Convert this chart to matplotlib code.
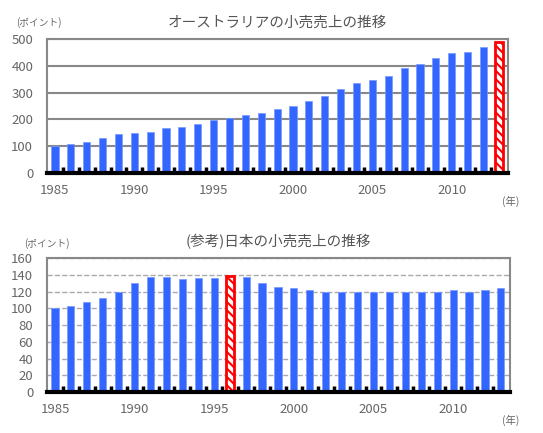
import numpy as np
import matplotlib.pyplot as plt
from matplotlib.ticker import MultipleLocator

plt.rcParams['font.family'] = ['Noto Sans CJK JP', 'DejaVu Sans']
plt.rcParams['hatch.color'] = 'red'
plt.rcParams['hatch.linewidth'] = 1.5

years = np.arange(1985, 2014)
aus = [100, 110, 116, 132, 144, 150, 154, 166, 172, 182, 199, 206, 216, 222, 240,
       250, 267, 289, 312, 334, 346, 362, 390, 407, 430, 447, 452, 469, 490]
jpn = [100, 103, 108, 113, 120, 130, 138, 138, 135, 136, 136, 139, 138, 130, 126,
       124, 122, 119, 119, 119, 120, 120, 120, 120, 119, 122, 120, 122, 124]
aus_mark = 2013
jpn_mark = 1996
xtick_years = [1985, 1990, 1995, 2000, 2005, 2010]

blue = '#3366ff'
gray_txt = '#666666'

fig = plt.figure(figsize=(5.43, 4.33), dpi=100)
ax1 = fig.add_axes([0.0866, 0.6005, 0.849, 0.3095])
ax2 = fig.add_axes([0.0866, 0.0947, 0.852, 0.309])


def draw(ax, vals, mark, ymax, ystep, grid_style, title):
    vals = np.array(vals)
    normal = years != mark
    ax.bar(years[normal], vals[normal], width=0.45, color=blue, edgecolor='#7799ff',
           linewidth=0.5, zorder=3)
    ax.bar(years[~normal], vals[~normal], width=0.5, color='white', edgecolor='red',
           linewidth=2, hatch='\\\\\\\\', zorder=3)
    ax.set_xlim(1984.5, 2013.55)
    ax.set_ylim(0, ymax)
    ax.yaxis.set_major_locator(MultipleLocator(ystep))
    ax.set_xticks(xtick_years)
    ax.set_xticks(years[:-1] + 0.5, minor=True)
    ax.tick_params(axis='x', which='major', length=0, pad=8, labelsize=9.5, labelcolor=gray_txt)
    ax.tick_params(axis='x', which='minor', direction='in', length=4, width=2.5, color='black')
    ax.tick_params(axis='y', length=0, pad=10, labelsize=9.5, labelcolor=gray_txt)
    ax.grid(axis='y', zorder=0, **grid_style)
    for s in ['top', 'left', 'right']:
        ax.spines[s].set_color('#888888')
        ax.spines[s].set_linewidth(1.5)
    ax.spines['bottom'].set_color('black')
    ax.spines['bottom'].set_linewidth(3)
    ax.spines['bottom'].set_zorder(5)
    ax.set_title(title, fontsize=10.5, color='#555555', pad=9)


draw(ax1, aus, aus_mark, 500, 100, dict(color='#888888', linewidth=1.5),
     'オーストラリアの小売売上の推移')
draw(ax2, jpn, jpn_mark, 160, 20, dict(color='#aaaaaa', linewidth=1, linestyle='--'),
     '(参考)日本の小売売上の推移')

fig.text(0.03, 0.948, '(ポイント)', fontsize=7, color=gray_txt, va='center')
fig.text(0.045, 0.438, '(ポイント)', fontsize=7, color=gray_txt, va='center')
fig.text(0.925, 0.535, '(年)', fontsize=7.5, color=gray_txt, va='center')
fig.text(0.925, 0.03, '(年)', fontsize=7.5, color=gray_txt, va='center')

fig.savefig('out.png', dpi=100)
